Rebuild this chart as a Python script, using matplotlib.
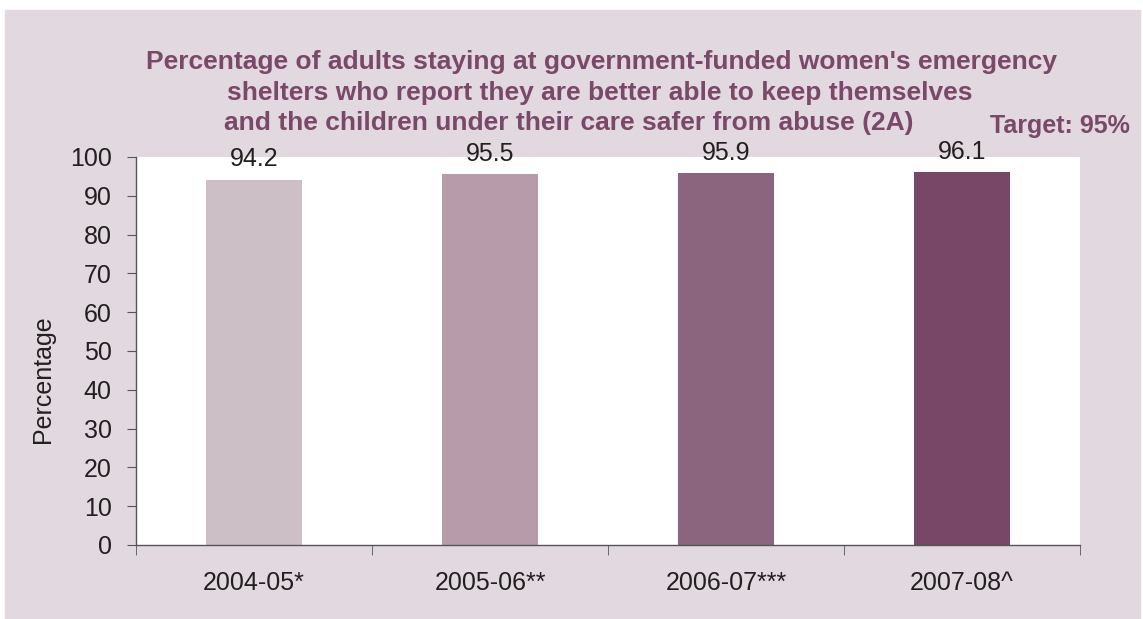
import matplotlib.pyplot as plt
from matplotlib.patches import Rectangle

# данные по годам
years = ['2004-05*', '2005-06**', '2006-07***', '2007-08^']
percent = [94.2, 95.5, 95.9, 96.1]
bar_colors = ['#CDBFC6', '#B89BAA', '#8B647D', '#784768']

title_color = '#7A4868'
panel_color = '#E2D8DF'
text_color = '#231F20'
fs = 18

plt.rcParams['font.family'] = ['Liberation Sans', 'DejaVu Sans']

fig = plt.figure(figsize=(11.43, 6.19), dpi=100)
# розоватая подложка под всем графиком
fig.patches.append(Rectangle((5 / 1143, 0), 1135 / 1143, 609 / 619,
                             transform=fig.transFigure, color=panel_color, zorder=-5))

ax = fig.add_axes([136 / 1143, 74 / 619, 944 / 1143, 388 / 619])
ax.set_facecolor('white')

x = range(len(years))
bars = ax.bar(x, percent, width=0.41, color=bar_colors, zorder=2)

# подписи значений над столбцами
for b, v in zip(bars, percent):
    ax.annotate(f'{v:.1f}', (b.get_x() + b.get_width() / 2, v),
                xytext=(0, 6), textcoords='offset points',
                ha='center', va='bottom', fontsize=fs, color=text_color,
                annotation_clip=False)

ax.set_xlim(-0.5, len(years) - 0.5)
ax.set_ylim(0, 100)
ax.set_yticks(range(0, 101, 10))
ax.tick_params(axis='y', labelsize=fs, labelcolor=text_color, length=6.5,
               color='#555555', pad=11)

# метки категорий без засечек, засечки по границам категорий
ax.set_xticks(list(x))
ax.set_xticklabels(years, fontsize=fs, color=text_color)
ax.tick_params(axis='x', length=0, pad=19)
ax.set_xticks([i - 0.5 for i in range(len(years) + 1)], minor=True)
ax.tick_params(axis='x', which='minor', length=7, color='#555555')

for s in ['top', 'right']:
    ax.spines[s].set_visible(False)
for s in ['left', 'bottom']:
    ax.spines[s].set_color('#555555')
    ax.spines[s].set_linewidth(1.0)

ax.set_ylabel('Percentage', fontsize=fs, color=text_color)
ax.yaxis.set_label_coords(-0.086, 0.428)

# целевое значение справа над областью графика, чтобы не лечь на столбец
fig.text(1130 / 1143, 1 - 126 / 619, 'Target: 95%', ha='right', va='center',
         fontsize=fs, fontweight='bold', color=title_color)

fig.text(0.526, 0.9, "Percentage of adults staying at government-funded women's emergency",
         ha='center', va='center', fontsize=19, fontweight='bold', color=title_color)
fig.text(0.525, 0.85, 'shelters who report they are better able to keep themselves',
         ha='center', va='center', fontsize=19, fontweight='bold', color=title_color)
fig.text(0.498, 0.801, 'and the children under their care safer from abuse (2A)',
         ha='center', va='center', fontsize=19, fontweight='bold', color=title_color)

fig.savefig('out.png', dpi=100)
